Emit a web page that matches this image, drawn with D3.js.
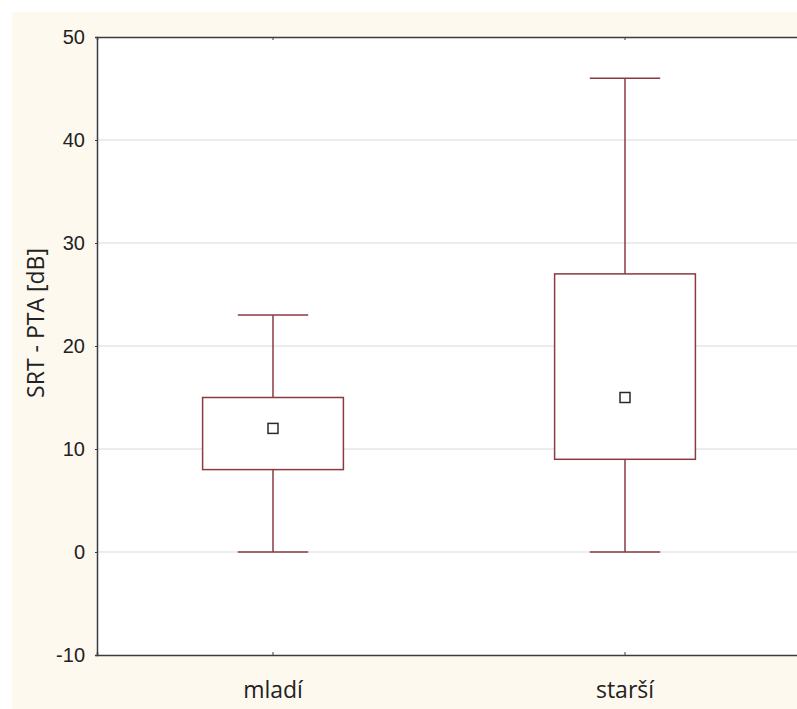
<!DOCTYPE html>
<html><head><meta charset="utf-8">
<script src="https://cdn.jsdelivr.net/npm/d3@7/dist/d3.min.js"></script>
<style>html,body{margin:0;padding:0;background:#fff;overflow:hidden}</style>
</head><body>
<svg id="chart" width="797" height="709"></svg>
<script>
const categories = ["mladí", "starší"];
const whiskerLow = [0, 0];
const boxLow = [8, 9];
const meanValue = [12, 15];
const boxHigh = [15, 27];
const whiskerHigh = [23, 46];
const yTicks = [-10, 0, 10, 20, 30, 40, 50];
const yLabel = "SRT - PTA [dB]";

const svg = d3.select("#chart");
const W = 797, H = 709;
const m = {left: 97, top: 37, right: 801, bottom: 655};

svg.append("rect").attr("x", 12).attr("y", 12).attr("width", W - 12).attr("height", H - 12).attr("fill", "#fdf9ef");
svg.append("rect").attr("x", m.left).attr("y", m.top).attr("width", m.right - m.left).attr("height", m.bottom - m.top).attr("fill", "#ffffff");

const x = d3.scaleBand().domain(categories).range([m.left, m.right]);
const y = d3.scaleLinear().domain([-10, 50]).range([m.bottom, m.top]);

// grid
svg.append("g").selectAll("line").data(yTicks.filter(t => t > -10 && t < 50)).join("line")
  .attr("x1", m.left).attr("x2", m.right)
  .attr("y1", d => y(d)).attr("y2", d => y(d))
  .attr("stroke", "#d9d9d9").attr("stroke-width", 1);

const data = categories.map((c, i) => ({c, wl: whiskerLow[i], bl: boxLow[i], mean: meanValue[i], bh: boxHigh[i], wh: whiskerHigh[i]}));
const boxW = x.bandwidth() * 0.4, capW = x.bandwidth() * 0.2;
const col = "#8b3a3f";
const g = svg.append("g").selectAll("g").data(data).join("g");
g.each(function(d) {
  const s = d3.select(this);
  const cx = x(d.c) + x.bandwidth() / 2;
  s.append("line").attr("x1", cx).attr("x2", cx).attr("y1", y(d.wh)).attr("y2", y(d.bh)).attr("stroke", col).attr("stroke-width", 1.5);
  s.append("line").attr("x1", cx).attr("x2", cx).attr("y1", y(d.bl)).attr("y2", y(d.wl)).attr("stroke", col).attr("stroke-width", 1.5);
  s.append("line").attr("x1", cx - capW / 2).attr("x2", cx + capW / 2).attr("y1", y(d.wh)).attr("y2", y(d.wh)).attr("stroke", col).attr("stroke-width", 1.5);
  s.append("line").attr("x1", cx - capW / 2).attr("x2", cx + capW / 2).attr("y1", y(d.wl)).attr("y2", y(d.wl)).attr("stroke", col).attr("stroke-width", 1.5);
  s.append("rect").attr("x", cx - boxW / 2).attr("y", y(d.bh)).attr("width", boxW).attr("height", y(d.bl) - y(d.bh))
    .attr("fill", "#ffffff").attr("stroke", col).attr("stroke-width", 1.5);
  s.append("rect").attr("x", cx - 5).attr("y", y(d.mean) - 5).attr("width", 10).attr("height", 10)
    .attr("fill", "#ffffff").attr("stroke", "#2a2a2a").attr("stroke-width", 1.5);
});

// axes
const yAxis = d3.axisLeft(y).tickValues(yTicks).tickFormat(d => String(d)).tickSize(2).tickPadding(10);
const ya = svg.append("g").attr("transform", `translate(${m.left},0)`).call(yAxis);
ya.select(".domain").attr("stroke", "#3c3c3c").attr("stroke-width", 1.5);
ya.selectAll(".tick line").attr("stroke", "#3c3c3c");
ya.selectAll("text").attr("font-family", "Liberation Sans, Arial, sans-serif").attr("font-size", 20).attr("fill", "#222");

const xb = svg.append("g").attr("transform", `translate(0,${m.bottom})`).call(d3.axisBottom(x).tickSize(-3).tickPadding(27));
xb.select(".domain").attr("stroke", "#3c3c3c").attr("stroke-width", 1.5);
xb.selectAll(".tick line").attr("stroke", "#3c3c3c");
xb.selectAll("text").attr("font-family", "Open Sans, Lato, sans-serif").attr("font-size", 23).attr("fill", "#222");

const xt = svg.append("g").attr("transform", `translate(0,${m.top})`).call(d3.axisTop(x).tickSize(-3).tickFormat(""));
xt.select(".domain").attr("stroke", "#3c3c3c").attr("stroke-width", 1.5);
xt.selectAll(".tick line").attr("stroke", "#3c3c3c");

svg.append("text").attr("transform", "translate(44,323) rotate(-90)")
  .attr("text-anchor", "middle").attr("font-family", "Open Sans, Lato, sans-serif").attr("font-size", 23).attr("fill", "#222")
  .text(yLabel);
</script>
</body></html>
